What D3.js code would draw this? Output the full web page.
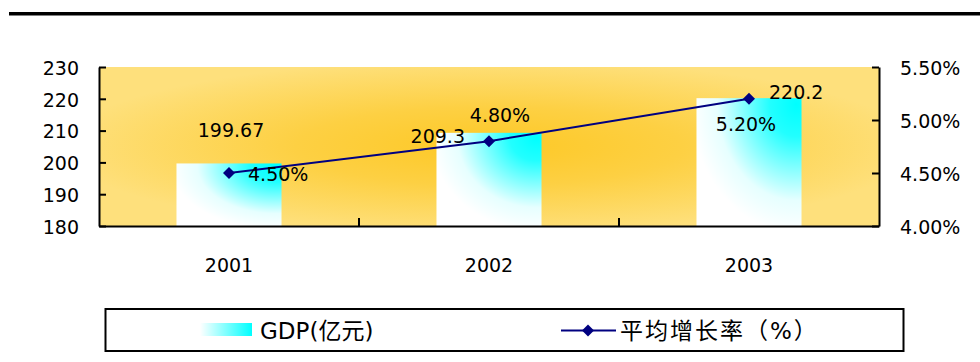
<!DOCTYPE html>
<html><head><meta charset="utf-8">
<script src="https://cdn.jsdelivr.net/npm/d3@7"></script>
<style>
html,body{margin:0;padding:0;background:#fff;}
svg text{font-family:"DejaVu Sans","Noto Sans CJK SC",sans-serif;fill:#000;}
</style></head>
<body><svg id="c" width="980" height="362"></svg>
<script>
const categories = ["2001","2002","2003"];
const gdpValues = [199.67, 209.3, 220.2];
const gdpLabels = ["199.67","209.3","220.2"];
const growthValues = [0.045, 0.048, 0.052];
const growthLabels = ["4.50%","4.80%","5.20%"];
const leftTicks = [180,190,200,210,220,230];
const rightTicks = [0.04,0.045,0.05,0.055];
const legendLabels = ["GDP(亿元)","平均增长率（%）"];

const svg = d3.select("#c");
const L=99, R=879, T=67, B=226;
const fs = 19;

// top rule
svg.append("rect").attr("x",9).attr("y",12).attr("width",971).attr("height",3.5).attr("fill","#000");

const defs = svg.append("defs");
const bg = defs.append("radialGradient").attr("id","bg").attr("cx",0.5).attr("cy",0.5).attr("r",0.55);
bg.append("stop").attr("offset",0).attr("stop-color","#FDC825");
bg.append("stop").attr("offset",0.45).attr("stop-color","#FDD043");
bg.append("stop").attr("offset",1).attr("stop-color","#FEE07C");
const bar = defs.append("radialGradient").attr("id","bar").attr("cx",0.95).attr("cy",0.05).attr("r",1.0);
bar.append("stop").attr("offset",0).attr("stop-color","#00FFFF");
bar.append("stop").attr("offset",0.25).attr("stop-color","#22FFFF");
bar.append("stop").attr("offset",0.75).attr("stop-color","#E6FFFF");
bar.append("stop").attr("offset",1).attr("stop-color","#FFFFFF");
const lg = defs.append("linearGradient").attr("id","lg").attr("x1",0).attr("x2",1).attr("y1",0).attr("y2",0);
lg.append("stop").attr("offset",0).attr("stop-color","#FFFFFF");
lg.append("stop").attr("offset",1).attr("stop-color","#00FFFF");

const x = d3.scaleBand().domain(categories).range([L,R]).paddingInner(0.596).paddingOuter(0.298);
const yL = d3.scaleLinear().domain([180,230]).range([B,T]);
const yR = d3.scaleLinear().domain([0.04,0.055]).range([B,T]);

svg.append("rect").attr("x",L).attr("y",T).attr("width",R-L).attr("height",B-T).attr("fill","url(#bg)");

// bars
svg.selectAll("rect.bar").data(categories).enter().append("rect").attr("class","bar")
  .attr("x",d=>x(d)).attr("width",x.bandwidth())
  .attr("y",(d,i)=>yL(gdpValues[i])).attr("height",(d,i)=>B-yL(gdpValues[i]))
  .attr("fill","url(#bar)");

// axes
const axL = svg.append("g").attr("transform",`translate(${L},0)`)
  .call(d3.axisLeft(yL).tickValues(leftTicks).tickSizeInner(-7).tickSizeOuter(0).tickPadding(20).tickFormat(d3.format("d")));
const axR = svg.append("g").attr("transform",`translate(${R},0)`)
  .call(d3.axisRight(yR).tickValues(rightTicks).tickSizeInner(-7).tickSizeOuter(0).tickPadding(21).tickFormat(d3.format(".2%")));
const axB = svg.append("g").attr("transform",`translate(0,${B})`)
  .call(d3.axisBottom(x).tickSize(0).tickPadding(33).tickSizeOuter(0));
[axL,axR,axB].forEach(g=>{
  g.select(".domain").attr("stroke","#000").attr("stroke-width",2);
  g.selectAll(".tick line").attr("stroke","#000").attr("stroke-width",2);
  g.selectAll("text").attr("font-size",fs).attr("font-family","DejaVu Sans").attr("fill","#000");
});
axL.selectAll("text").attr("dy","0.38em");
axR.selectAll("text").attr("dy","0.38em");
// category boundary ticks
const gap = (x.step()-x.bandwidth())/2;
svg.selectAll("line.bt").data(categories.slice(1)).enter().append("line")
  .attr("x1",d=>x(d)-gap).attr("x2",d=>x(d)-gap).attr("y1",B).attr("y2",B-8)
  .attr("stroke","#000").attr("stroke-width",2);

// line
const cx = d=>x(d)+x.bandwidth()/2;
svg.append("path").datum(categories)
  .attr("d",d3.line().x(d=>cx(d)).y((d,i)=>yR(growthValues[i])))
  .attr("fill","none").attr("stroke","#000080").attr("stroke-width",2);
svg.selectAll("path.mk").data(categories).enter().append("path")
  .attr("d",d3.symbol().type(d3.symbolSquare).size(72))
  .attr("transform",(d,i)=>`translate(${cx(d)},${yR(growthValues[i])}) rotate(45)`)
  .attr("fill","#000080");

// data labels
const gdpOff = [[2,-26,"middle"],[-24,10,"end"],[20,1,"start"]];
svg.selectAll("text.gl").data(categories).enter().append("text")
  .attr("x",(d,i)=>cx(d)+gdpOff[i][0]).attr("y",(d,i)=>yL(gdpValues[i])+gdpOff[i][1])
  .attr("text-anchor",(d,i)=>gdpOff[i][2]).attr("font-size",fs).text((d,i)=>gdpLabels[i]);
const grOff = [[19,8,"start"],[11,-19,"middle"],[-3,32,"middle"]];
svg.selectAll("text.rl").data(categories).enter().append("text")
  .attr("x",(d,i)=>cx(d)+grOff[i][0]).attr("y",(d,i)=>yR(growthValues[i])+grOff[i][1])
  .attr("text-anchor",(d,i)=>grOff[i][2]).attr("font-size",fs).text((d,i)=>growthLabels[i]);

// legend
svg.append("rect").attr("x",105.5).attr("y",309).attr("width",798).attr("height",42)
  .attr("fill","#fff").attr("stroke","#000").attr("stroke-width",2);
svg.append("rect").attr("x",200).attr("y",323).attr("width",52).attr("height",13).attr("fill","url(#lg)");
svg.append("text").attr("x",260).attr("y",339).attr("font-size",23).text(legendLabels[0]);
svg.append("line").attr("x1",561).attr("x2",616).attr("y1",330.5).attr("y2",330.5).attr("stroke","#000080").attr("stroke-width",2);
svg.append("path").attr("d",d3.symbol().type(d3.symbolSquare).size(72)).attr("transform","translate(588,330.5) rotate(45)").attr("fill","#000080");
svg.append("text").attr("x",620).attr("y",339).attr("font-size",23).attr("letter-spacing",2).text(legendLabels[1]);
</script></body></html>
